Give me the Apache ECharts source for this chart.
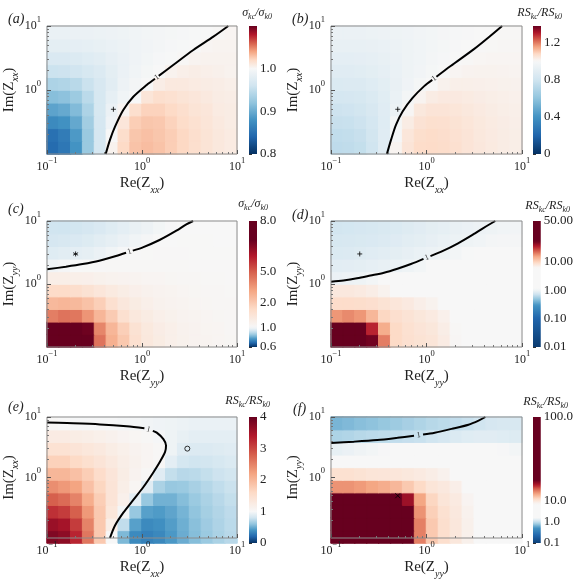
<!DOCTYPE html>
<html>
<head>
<meta charset="utf-8">
<script src="https://cdn.jsdelivr.net/npm/echarts@6/dist/echarts.min.js"></script>
<style>
html, body { margin: 0; padding: 0; background: #fff; }
#main { width: 576px; height: 580px; }
</style>
</head>
<body>
<div id="main"></div>
<script>
// cell centres of the maps (Re on x, Im on y, log spaced)
var reCells = [0.115, 0.154, 0.205, 0.274, 0.365, 0.487, 0.649, 0.866, 1.15, 1.54, 2.05, 2.74, 3.65, 4.87, 6.49, 8.66];
var imCells = [0.126, 0.2, 0.316, 0.5, 0.794, 1.26, 2.0, 3.16, 5.0, 7.94];

// map values, one row per imCells entry, bottom row first
var fieldA = [
    [0.845, 0.855, 0.88, 0.925, 0.965, 1.004, 1.02, 1.029, 1.031, 1.029, 1.025, 1.021, 1.017, 1.014, 1.011, 1.009],
    [0.85, 0.86, 0.885, 0.925, 0.965, 1.0, 1.018, 1.028, 1.03, 1.028, 1.025, 1.021, 1.017, 1.014, 1.011, 1.009],
    [0.872, 0.878, 0.897, 0.93, 0.965, 0.992, 1.012, 1.025, 1.028, 1.027, 1.023, 1.019, 1.016, 1.013, 1.01, 1.008],
    [0.893, 0.898, 0.912, 0.937, 0.966, 0.987, 1.002, 1.017, 1.023, 1.023, 1.02, 1.017, 1.014, 1.012, 1.009, 1.008],
    [0.915, 0.918, 0.927, 0.946, 0.966, 0.982, 0.993, 1.0, 1.013, 1.017, 1.016, 1.014, 1.012, 1.01, 1.008, 1.007],
    [0.937, 0.94, 0.945, 0.956, 0.967, 0.978, 0.99, 0.996, 1.0, 1.007, 1.01, 1.01, 1.009, 1.008, 1.007, 1.006],
    [0.957, 0.958, 0.961, 0.966, 0.972, 0.98, 0.987, 0.993, 0.997, 1.0, 1.004, 1.006, 1.007, 1.006, 1.005, 1.004],
    [0.97, 0.97, 0.972, 0.975, 0.978, 0.983, 0.987, 0.992, 0.995, 0.998, 0.999, 1.001, 1.003, 1.004, 1.004, 1.004],
    [0.98, 0.98, 0.981, 0.982, 0.984, 0.986, 0.989, 0.992, 0.994, 0.996, 0.998, 0.999, 1.0, 1.002, 1.003, 1.003],
    [0.986, 0.986, 0.987, 0.987, 0.988, 0.99, 0.991, 0.993, 0.995, 0.996, 0.997, 0.998, 0.999, 1.0, 1.001, 1.002]
];
var fieldB = [
    [0.74, 0.745, 0.76, 0.8, 0.88, 1.01, 1.05, 1.07, 1.072, 1.068, 1.06, 1.05, 1.042, 1.035, 1.03, 1.025],
    [0.75, 0.755, 0.77, 0.81, 0.88, 0.99, 1.045, 1.065, 1.07, 1.066, 1.058, 1.05, 1.04, 1.034, 1.03, 1.025],
    [0.77, 0.775, 0.79, 0.82, 0.875, 0.985, 1.03, 1.055, 1.062, 1.06, 1.054, 1.046, 1.038, 1.032, 1.028, 1.023],
    [0.79, 0.795, 0.81, 0.835, 0.88, 0.94, 1.005, 1.04, 1.05, 1.05, 1.046, 1.04, 1.034, 1.029, 1.025, 1.021],
    [0.82, 0.825, 0.83, 0.85, 0.885, 0.93, 0.98, 1.01, 1.03, 1.036, 1.036, 1.032, 1.028, 1.025, 1.022, 1.019],
    [0.85, 0.855, 0.86, 0.875, 0.895, 0.925, 0.96, 0.985, 1.0, 1.016, 1.022, 1.022, 1.02, 1.019, 1.017, 1.015],
    [0.88, 0.88, 0.885, 0.895, 0.91, 0.93, 0.95, 0.97, 0.985, 1.0, 1.008, 1.012, 1.013, 1.013, 1.012, 1.011],
    [0.9, 0.9, 0.905, 0.91, 0.92, 0.935, 0.95, 0.965, 0.978, 0.99, 0.998, 1.003, 1.006, 1.007, 1.007, 1.007],
    [0.92, 0.92, 0.922, 0.926, 0.932, 0.94, 0.952, 0.963, 0.974, 0.984, 0.992, 0.998, 1.001, 1.003, 1.004, 1.004],
    [0.935, 0.935, 0.937, 0.94, 0.945, 0.95, 0.958, 0.966, 0.974, 0.982, 0.989, 0.994, 0.998, 1.0, 1.002, 1.003]
];
var fieldC = [
    [8.5, 9, 9, 7.5, 4.5, 2.8, 2.0, 1.6, 1.4, 1.3, 1.22, 1.17, 1.13, 1.1, 1.08, 1.06],
    [7.5, 8.5, 8.3, 6.8, 4.0, 2.6, 1.9, 1.55, 1.38, 1.28, 1.21, 1.16, 1.12, 1.09, 1.07, 1.05],
    [4.2, 4.5, 4.4, 3.6, 2.6, 1.95, 1.6, 1.4, 1.3, 1.22, 1.17, 1.13, 1.1, 1.08, 1.06, 1.05],
    [2.5, 2.6, 2.5, 2.2, 1.9, 1.6, 1.42, 1.3, 1.22, 1.16, 1.13, 1.1, 1.08, 1.06, 1.05, 1.04],
    [1.7, 1.7, 1.65, 1.55, 1.45, 1.35, 1.27, 1.2, 1.15, 1.12, 1.1, 1.08, 1.06, 1.05, 1.04, 1.03],
    [1.25, 1.25, 1.22, 1.2, 1.17, 1.14, 1.12, 1.1, 1.08, 1.07, 1.06, 1.05, 1.04, 1.03, 1.03, 1.02],
    [0.985, 0.993, 1.0, 1.01, 1.02, 1.03, 1.035, 1.035, 1.035, 1.03, 1.03, 1.025, 1.022, 1.02, 1.018, 1.015],
    [0.95, 0.955, 0.96, 0.965, 0.975, 0.985, 0.995, 1.003, 1.01, 1.015, 1.015, 1.015, 1.013, 1.012, 1.01, 1.01],
    [0.93, 0.935, 0.94, 0.945, 0.955, 0.965, 0.975, 0.985, 0.993, 1.0, 1.005, 1.008, 1.008, 1.008, 1.007, 1.006],
    [0.92, 0.92, 0.925, 0.93, 0.94, 0.95, 0.96, 0.97, 0.98, 0.99, 0.997, 1.0, 1.004, 1.005, 1.005, 1.005]
];
var fieldD = [
    [30, 40, 40, 22, 14, 9.5, 8.8, 8.5, 8.2, 7.5, 6.5, 5.5, 5, 4.5, 4, 3.5],
    [25, 30, 28, 18, 12, 9.5, 8.7, 8.3, 8, 7.3, 6.4, 5.5, 5, 4.5, 4, 3.5],
    [13, 13.5, 13, 11.5, 9.8, 8.9, 8.4, 8, 7.6, 7, 6.2, 5.4, 4.8, 4.3, 3.8, 3.4],
    [9.2, 9.2, 9.1, 8.9, 8.5, 8.1, 7.7, 7.2, 6.8, 6.3, 5.6, 5, 4.5, 4, 3.6, 3.2],
    [7.8, 7.8, 7.6, 7.3, 6.8, 6.3, 5.8, 5.3, 4.8, 4.4, 4, 3.6, 3.3, 3, 2.7, 2.5],
    [0.97, 0.99, 1.0, 1.05, 1.3, 1.6, 1.8, 2.0, 2.1, 2.1, 2.0, 1.9, 1.8, 1.7, 1.6, 1.5],
    [0.88, 0.89, 0.9, 0.92, 0.94, 0.97, 1.0, 1.05, 1.15, 1.25, 1.3, 1.3, 1.3, 1.28, 1.25, 1.22],
    [0.82, 0.83, 0.84, 0.86, 0.88, 0.9, 0.93, 0.96, 0.98, 1.0, 1.05, 1.1, 1.12, 1.13, 1.13, 1.12],
    [0.78, 0.79, 0.8, 0.81, 0.83, 0.85, 0.88, 0.9, 0.93, 0.96, 0.98, 1.0, 1.03, 1.06, 1.07, 1.07],
    [0.75, 0.76, 0.77, 0.78, 0.8, 0.82, 0.84, 0.87, 0.9, 0.92, 0.95, 0.97, 0.99, 1.01, 1.03, 1.04]
];
var fieldE = [
    [3.8, 3.7, 3.3, 2.6, 1.8, 1.0, 0.55, 0.36, 0.32, 0.35, 0.42, 0.5, 0.57, 0.63, 0.68, 0.72],
    [3.6, 3.5, 3.1, 2.5, 1.8, 1.2, 0.75, 0.45, 0.36, 0.38, 0.44, 0.51, 0.58, 0.64, 0.69, 0.73],
    [3.2, 3.1, 2.8, 2.3, 1.8, 1.35, 0.98, 0.62, 0.45, 0.43, 0.47, 0.53, 0.6, 0.66, 0.7, 0.74],
    [2.8, 2.7, 2.5, 2.1, 1.75, 1.4, 1.15, 0.9, 0.62, 0.52, 0.52, 0.57, 0.63, 0.68, 0.72, 0.76],
    [2.4, 2.3, 2.2, 1.9, 1.65, 1.4, 1.2, 1.05, 0.88, 0.68, 0.62, 0.63, 0.67, 0.71, 0.75, 0.78],
    [2.0, 2.0, 1.9, 1.75, 1.55, 1.38, 1.22, 1.1, 1.03, 0.88, 0.76, 0.72, 0.73, 0.76, 0.79, 0.81],
    [1.7, 1.7, 1.6, 1.5, 1.4, 1.3, 1.2, 1.12, 1.06, 1.02, 0.9, 0.82, 0.8, 0.81, 0.83, 0.85],
    [1.45, 1.45, 1.4, 1.35, 1.3, 1.22, 1.16, 1.1, 1.06, 1.02, 0.95, 0.88, 0.86, 0.86, 0.87, 0.88],
    [1.25, 1.25, 1.22, 1.2, 1.16, 1.12, 1.08, 1.05, 1.02, 0.99, 0.95, 0.92, 0.9, 0.9, 0.9, 0.9],
    [1.02, 1.0, 0.99, 0.99, 0.99, 0.99, 0.98, 0.98, 0.97, 0.96, 0.95, 0.94, 0.93, 0.93, 0.93, 0.93]
];
var fieldF = [
    [60, 60, 60, 60, 55, 40, 22, 13, 11, 10.3, 9.5, 8, 6, 4.5, 3.5, 3],
    [60, 60, 60, 60, 55, 40, 22, 13, 11, 10.3, 9.5, 8, 6, 4.5, 3.5, 3],
    [55, 55, 55, 55, 50, 35, 20, 12.5, 10.8, 10.2, 9.3, 7.8, 6, 4.5, 3.5, 3],
    [30, 30, 30, 28, 25, 22, 16, 12, 10.6, 10, 9, 7.5, 5.8, 4.4, 3.5, 3],
    [12.5, 12.5, 12.3, 12, 11.8, 11.5, 11, 10.5, 10, 9.3, 8.3, 7, 5.5, 4.2, 3.4, 2.9],
    [10.2, 10.2, 10.1, 10, 9.9, 9.7, 9.4, 9, 8.5, 7.8, 7, 6, 4.8, 3.8, 3.1, 2.7],
    [6, 6, 6, 5.8, 5.6, 5.3, 5, 4.6, 4.2, 3.8, 3.4, 3, 2.6, 2.3, 2.1, 1.9],
    [1.3, 1.35, 1.4, 1.45, 1.5, 1.55, 1.6, 1.65, 1.7, 1.7, 1.7, 1.65, 1.6, 1.55, 1.5, 1.45],
    [0.85, 0.87, 0.9, 0.92, 0.94, 0.96, 0.98, 1.0, 1.05, 1.1, 1.15, 1.2, 1.22, 1.22, 1.2, 1.18],
    [0.65, 0.67, 0.7, 0.72, 0.75, 0.78, 0.82, 0.86, 0.9, 0.93, 0.96, 1.0, 1.05, 1.1, 1.12, 1.12]
];

// the level-1 contour of each map; null = gap for the inline label
var contourA = [[0.415, 0.1], [0.46, 0.166], [0.52, 0.267], [0.635, 0.487], [0.81, 0.785], [1.12, 1.2], [1.37, 1.5], null, [1.5, 1.66], [2.13, 2.46], [3.47, 4.22], [5.64, 6.81], [8.09, 10]];
var contourB = [[0.385, 0.1], [0.425, 0.166], [0.479, 0.286], [0.562, 0.463], [0.715, 0.753], [0.946, 1.15], [1.15, 1.44], null, [1.27, 1.61], [1.79, 2.37], [3.14, 4.35], [4.68, 7.03], [6.19, 10]];
var contourC = [[0.1, 1.71], [0.158, 1.88], [0.237, 2.07], [0.355, 2.34], [0.533, 2.78], [0.68, 3.13], null, [0.8, 3.39], [1.02, 3.82], [1.53, 4.99], [2.3, 7.02], [2.93, 8.85], [3.45, 10]];
var contourD = [[0.1, 1.09], [0.135, 1.14], [0.187, 1.23], [0.259, 1.36], [0.359, 1.51], [0.496, 1.75], [0.687, 2.08], [0.93, 2.51], null, [1.1, 2.77], [1.43, 3.26], [2.14, 4.43], [3.22, 6.38], [4.45, 8.64], [5.25, 10]];
var contourE = [[0.1, 8.13], [0.162, 7.94], [0.361, 7.55], [0.69, 7.02], [1.06, 6.5], null, [1.3, 5.9], [1.43, 5.51], [1.68, 4.32], [1.79, 3.38], [1.75, 2.65], [1.55, 1.84], [1.31, 1.2], [1.03, 0.69], [0.81, 0.427], [0.636, 0.262], [0.52, 0.161], [0.46, 0.1]];
var contourF = [[0.1, 3.73], [0.173, 3.91], [0.305, 4.16], [0.496, 4.52], [0.74, 4.88], null, [0.92, 5.12], [1.22, 5.51], [1.83, 6.37], [2.75, 7.46], [3.51, 8.73], [4.13, 10]];

// inline contour label: [Re, Im, angle in degrees]
var clabelA = [1.43, 1.57, 37];
var clabelB = [1.2, 1.51, 37];
var clabelC = [0.74, 3.25, 18];
var clabelD = [1.01, 2.63, 22];
var clabelE = [1.17, 6.25, -14];
var clabelF = [0.826, 4.99, 8];

// marked points
var markA = [[0.5, 0.5]];
var markB = [[0.5, 0.5]];
var markC = [[0.2, 3.0]];
var markD = [[0.2, 3.0]];
var markE = [[3.0, 3.0]];
var markF = [[0.5, 0.5]];

// colour bar ticks
var cbTicksA = [0.8, 0.9, 1.0];        var cbTextA = ['0.8', '0.9', '1.0'];
var cbTicksB = [0, 0.4, 0.8, 1.2];     var cbTextB = ['0', '0.4', '0.8', '1.2'];
var cbTicksC = [0.6, 1, 2, 5, 8];      var cbTextC = ['0.6', '1.0', '2.0', '5.0', '8.0'];
var cbTicksD = [0.01, 0.1, 1, 10, 50]; var cbTextD = ['0.01', '0.10', '1.00', '10.00', '50.00'];
var cbTicksE = [0, 1, 2, 3, 4];        var cbTextE = ['0', '1', '2', '3', '4'];
var cbTicksF = [0.1, 1, 10, 100];      var cbTextF = ['0.1', '1.0', '10.0', '100.0'];

var minorTicks = [0.2, 0.3, 0.4, 0.5, 0.6, 0.7, 0.8, 0.9, 2, 3, 4, 5, 6, 7, 8, 9];

var SERIF = '"Liberation Serif", "DejaVu Serif", serif';
var INK = '#222';
var RDBU = ['#053061', '#2166ac', '#4393c3', '#92c5de', '#d1e5f0', '#f7f7f7', '#fddbc7', '#f4a582', '#d6604d', '#b2182b', '#67001f'];

var PLUS = 'path://M0,5L10,5M5,0L5,10';
var STAR = 'path://M5,0L5,10M0.7,2.5L9.3,7.5M9.3,2.5L0.7,7.5';
var CROSS = 'path://M1,1L9,9M9,1L1,9';

// norm: value -> position on the colour bar; cmap: bar position -> RdBu_r position
var panels = [
    {tag: '(a)', field: fieldA, contour: contourA, clabel: clabelA, mark: markA, sym: PLUS, msize: 5, axis: 'xx', cb: 'σ',
     ticks: cbTicksA, tickText: cbTextA, norm: [[0.8, 0], [1.1, 1]], log: false, cmap: [[0, 0], [0.667, 0.5], [1, 1]],
     box: [47, 26, 190, 128], cbx: 249, tagPos: [3, 7], titlePos: [304, 5]},
    {tag: '(b)', field: fieldB, contour: contourB, clabel: clabelB, mark: markB, sym: PLUS, msize: 5, axis: 'xx', cb: 'RS',
     ticks: cbTicksB, tickText: cbTextB, norm: [[0, 0], [1.375, 1]], log: false, cmap: [[0, 0], [0.727, 0.5], [1, 1]],
     box: [331, 26, 191, 128], cbx: 533, tagPos: [287, 7], titlePos: [14, 5]},
    {tag: '(c)', field: fieldC, contour: contourC, clabel: clabelC, mark: markC, sym: STAR, msize: 5, axis: 'yy', cb: 'σ',
     ticks: cbTicksC, tickText: cbTextC, norm: [[0.6, 0], [1, 0.157], [2, 0.355], [5, 0.595], [8, 1]], log: false,
     cmap: [[0, 0], [0.157, 0.5], [0.595, 0.8], [0.85, 1], [1, 1]],
     box: [47, 221, 190, 126], cbx: 249, tagPos: [3, 197], titlePos: [308, 196]},
    {tag: '(d)', field: fieldD, contour: contourD, clabel: clabelD, mark: markD, sym: PLUS, msize: 5, axis: 'yy', cb: 'RS',
     ticks: cbTicksD, tickText: cbTextD, norm: [[0.01, 0], [0.1, 0.228], [1, 0.45], [10, 0.675], [50, 1]], log: true,
     cmap: [[0, 0.02], [0.23, 0.1], [0.33, 0.2], [0.38, 0.3], [0.42, 0.4], [0.46, 0.5], [0.63, 0.5], [0.67, 0.6], [0.72, 0.7], [0.76, 0.8], [0.8, 0.9], [0.84, 1], [1, 1]],
     box: [331, 221, 191, 126], cbx: 533, tagPos: [287, 203], titlePos: [6, 198]},
    {tag: '(e)', field: fieldE, contour: contourE, clabel: clabelE, mark: markE, sym: 'circle', msize: 5, axis: 'xx', cb: 'RS',
     ticks: cbTicksE, tickText: cbTextE, norm: [[0, 0], [4, 1]], log: false, cmap: [[0, 0], [0.25, 0.5], [1, 1]],
     box: [47, 417, 190, 126], cbx: 249, tagPos: [3, 395], titlePos: [306, 393]},
    {tag: '(f)', field: fieldF, contour: contourF, clabel: clabelF, mark: markF, sym: CROSS, msize: 5, axis: 'yy', cb: 'RS',
     ticks: cbTicksF, tickText: cbTextF, norm: [[0.1, 0], [1, 0.17], [10, 0.336], [100, 1]], log: true,
     cmap: [[0, 0.03], [0.06, 0.1], [0.12, 0.2], [0.16, 0.35], [0.2, 0.5], [0.31, 0.5], [0.35, 0.6], [0.39, 0.7], [0.43, 0.8], [0.46, 0.9], [0.5, 1], [1, 1]],
     box: [331, 417, 191, 126], cbx: 533, tagPos: [288, 397], titlePos: [8, 394]}
];

function hexRgb(h) {
    return [parseInt(h.slice(1, 3), 16), parseInt(h.slice(3, 5), 16), parseInt(h.slice(5, 7), 16)];
}
function rdbu(c) {
    c = Math.max(0, Math.min(1, c));
    var p = c * 10, k = Math.min(9, Math.floor(p)), t = p - k;
    var a = hexRgb(RDBU[k]), b = hexRgb(RDBU[k + 1]);
    return 'rgb(' + [0, 1, 2].map(function (n) { return Math.round(a[n] + (b[n] - a[n]) * t); }).join(',') + ')';
}
function interp(pts, x) {
    if (x <= pts[0][0]) return pts[0][1];
    for (var k = 1; k < pts.length; k++) {
        if (x <= pts[k][0]) {
            var a = pts[k - 1], b = pts[k];
            return a[1] + (b[1] - a[1]) * (x - a[0]) / (b[0] - a[0]);
        }
    }
    return pts[pts.length - 1][1];
}
function barPos(p, v) {
    if (!p.log) return interp(p.norm, v);
    return interp(p.norm.map(function (q) { return [Math.log10(q[0]), q[1]]; }), Math.log10(v));
}
function colorOf(p, v) { return rdbu(interp(p.cmap, barPos(p, v))); }

function powLabel(v) {
    var e = Math.round(Math.log10(v));
    return '{b|10}{e|' + (e < 0 ? '\u2212' + (-e) : e) + '}';
}
var powRich = {
    b: {fontFamily: SERIF, fontSize: 12, color: INK, lineHeight: 22},
    e: {fontFamily: SERIF, fontSize: 8.5, color: INK, verticalAlign: 'top'}
};
var nameRich = {
    n: {fontFamily: SERIF, fontSize: 15, color: INK, lineHeight: 24},
    s: {fontFamily: SERIF, fontSize: 10, fontStyle: 'italic', color: INK, verticalAlign: 'bottom'}
};
var titleRich = {
    i: {fontFamily: SERIF, fontSize: 12, fontStyle: 'italic', fontWeight: 'normal', color: INK, lineHeight: 16},
    s: {fontFamily: SERIF, fontSize: 8, fontStyle: 'italic', fontWeight: 'normal', color: INK, verticalAlign: 'bottom'}
};

var grids = [], xAxes = [], yAxes = [], series = [], titles = [];

panels.forEach(function (p) {
    var box = {left: p.box[0], top: p.box[1], width: p.box[2], height: p.box[3]};
    var gHeat = grids.length;
    grids.push(Object.assign({}, box));
    grids.push(Object.assign({show: true, z: 10, borderColor: '#8c8c8c', borderWidth: 1, backgroundColor: 'transparent'}, box));
    grids.push({left: p.cbx, top: p.box[1], width: 8, height: p.box[3]});

    // hidden category axes carrying the map cells
    var xHeat = xAxes.length, yHeat = yAxes.length;
    xAxes.push({type: 'category', gridIndex: gHeat, data: reCells.map(String), show: false});
    yAxes.push({type: 'category', gridIndex: gHeat, data: imCells.map(String), show: false});

    // visible log axes
    var xLog = xAxes.length, yLog = yAxes.length;
    xAxes.push({
        type: 'log', logBase: 10, gridIndex: gHeat + 1, min: 0.1, max: 10, z: 10,
        axisLine: {show: false}, splitLine: {show: false},
        axisTick: {inside: true, length: 4, lineStyle: {color: '#555'}},
        axisLabel: {formatter: powLabel, rich: powRich, margin: 2},
        name: '{n|Re(Z}{s|' + p.axis + '}{n|)}', nameLocation: 'middle', nameGap: 17,
        nameTextStyle: {rich: nameRich}
    });
    xAxes.push({
        type: 'log', logBase: 10, gridIndex: gHeat + 1, min: 0.1, max: 10, z: 10, position: 'bottom',
        axisLine: {show: false}, splitLine: {show: false}, axisLabel: {show: false},
        axisTick: {inside: true, length: 2, customValues: minorTicks, lineStyle: {color: '#777'}}
    });
    yAxes.push({
        type: 'log', logBase: 10, gridIndex: gHeat + 1, min: 0.1, max: 10, z: 10,
        axisLine: {show: false}, splitLine: {show: false},
        axisTick: {inside: true, length: 4, lineStyle: {color: '#555'}},
        axisLabel: {formatter: powLabel, rich: powRich, margin: 6, showMinLabel: false},
        name: '{n|Im(Z}{s|' + p.axis + '}{n|)}', nameLocation: 'middle', nameGap: 24,
        nameTextStyle: {rich: nameRich}
    });
    yAxes.push({
        type: 'log', logBase: 10, gridIndex: gHeat + 1, min: 0.1, max: 10, z: 10, position: 'left',
        axisLine: {show: false}, splitLine: {show: false}, axisLabel: {show: false},
        axisTick: {inside: true, length: 2, customValues: minorTicks, lineStyle: {color: '#777'}}
    });

    // colour bar axes
    var xBar = xAxes.length, yBar = yAxes.length;
    var fr = p.ticks.map(function (t) { return barPos(p, t); });
    xAxes.push({type: 'value', gridIndex: gHeat + 2, min: 0, max: 1, show: false});
    yAxes.push({
        type: 'value', gridIndex: gHeat + 2, min: 0, max: 1, position: 'right',
        axisLine: {show: false}, splitLine: {show: false},
        axisTick: {show: true, customValues: fr, length: 3, lineStyle: {color: '#333'}},
        axisLabel: {
            customValues: fr, margin: 3, fontFamily: SERIF, fontSize: 13, color: INK,
            formatter: function (v) {
                var best = 0;
                fr.forEach(function (f, k) { if (Math.abs(f - v) < Math.abs(fr[best] - v)) best = k; });
                return p.tickText[best];
            }
        }
    });

    var cells = [];
    p.field.forEach(function (row, j) {
        row.forEach(function (v, i) {
            var c = colorOf(p, v);
            cells.push({value: [i, j, v], itemStyle: {color: c, borderColor: c, borderWidth: 1}});
        });
    });
    series.push({type: 'heatmap', xAxisIndex: xHeat, yAxisIndex: yHeat, data: cells, silent: true, z: 1});

    series.push({
        type: 'line', xAxisIndex: xLog, yAxisIndex: yLog, smooth: 0.3, showSymbol: false, silent: true, z: 5,
        connectNulls: false,
        data: p.contour.map(function (pt) { return pt ? pt : ['-', '-']; }),
        lineStyle: {color: '#000', width: 2}
    });
    series.push({
        type: 'scatter', xAxisIndex: xLog, yAxisIndex: yLog, symbolSize: 0, silent: true, z: 6,
        data: [{value: [p.clabel[0], p.clabel[1]], label: {rotate: p.clabel[2]}}],
        label: {show: true, formatter: '1', position: 'inside', fontFamily: SERIF, fontSize: 8, color: '#000'}
    });
    series.push({
        type: 'scatter', xAxisIndex: xLog, yAxisIndex: yLog, silent: true, z: 6,
        data: p.mark, symbol: p.sym, symbolSize: p.msize,
        itemStyle: {color: 'rgba(0,0,0,0)', borderColor: '#000', borderWidth: 1}
    });

    // colour bar
    var stops = [];
    for (var k = 0; k <= 60; k++) stops.push({offset: k / 60, color: rdbu(interp(p.cmap, k / 60))});
    series.push({
        type: 'custom', xAxisIndex: xBar, yAxisIndex: yBar, silent: true, clip: false,
        data: [[0, 0]],
        renderItem: function (params, api) {
            var p0 = api.coord([0, 0]), p1 = api.coord([1, 1]);
            return {
                type: 'rect',
                shape: {x: p0[0], y: p1[1], width: p1[0] - p0[0], height: p0[1] - p1[1]},
                style: {fill: new echarts.graphic.LinearGradient(0, 1, 0, 0, stops)}
            };
        }
    });

    titles.push({
        text: p.tag, left: p.tagPos[0], top: p.tagPos[1],
        textStyle: {fontFamily: SERIF, fontStyle: 'italic', fontWeight: 'normal', fontSize: 14, color: INK}
    });
    titles.push({
        text: '{i|' + p.cb + '}{s|kc}{i|/' + p.cb + '}{s|k0}', right: p.titlePos[0], top: p.titlePos[1],
        padding: 0, textStyle: {fontWeight: 'normal', fontFamily: SERIF, rich: titleRich}
    });
});

var option = {
    animation: false,
    backgroundColor: '#fff',
    title: titles,
    grid: grids,
    xAxis: xAxes,
    yAxis: yAxes,
    series: series
};

var chart = echarts.init(document.getElementById('main'), null, {renderer: 'canvas'});
chart.setOption(option);
</script>
</body>
</html>
